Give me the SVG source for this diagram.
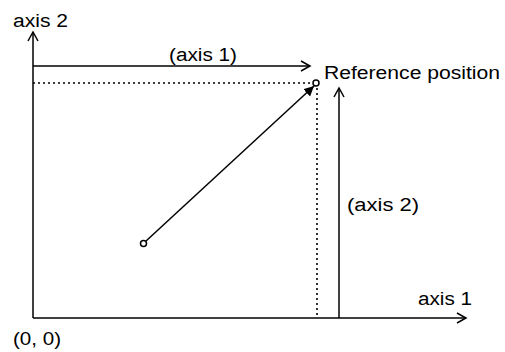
<svg xmlns="http://www.w3.org/2000/svg" width="505" height="352" viewBox="0 0 505 352">
<style>
text{font-family:"Liberation Sans",Arial,sans-serif;font-size:18px;fill:#000}
.l{stroke:#000;stroke-width:1.5;fill:none}
.d{stroke:#000;stroke-width:1.6;fill:none;stroke-dasharray:2 3}
</style>
<defs>
<marker id="open" markerWidth="12" markerHeight="12" refX="10" refY="6" orient="auto" markerUnits="userSpaceOnUse">
<path d="M1,1 L10,6 L1,11" fill="none" stroke="#000" stroke-width="1.5"/>
</marker>
<marker id="fill" markerWidth="12" markerHeight="12" refX="10" refY="5" orient="auto" markerUnits="userSpaceOnUse">
<path d="M0,0 L10,5 L0,10 Z" fill="#000"/>
</marker>
</defs>
<rect width="505" height="352" fill="#fff"/>
<g id="connectors">
<line class="l" x1="33" y1="318" x2="33" y2="32" marker-end="url(#open)"/>
<line class="l" x1="33" y1="318" x2="466" y2="318" marker-end="url(#open)"/>
<line class="l" x1="33" y1="66" x2="310" y2="66" marker-end="url(#open)"/>
<line class="d" x1="33" y1="83" x2="313" y2="83"/>
<line class="d" x1="317" y1="88" x2="317" y2="318"/>
<line class="l" x1="339" y1="318" x2="339" y2="88" marker-end="url(#open)"/>
<line class="l" x1="146" y1="241" x2="314" y2="86" marker-end="url(#fill)"/>
</g>
<g id="start"><circle cx="143.5" cy="243.5" r="3" fill="#fff" stroke="#000" stroke-width="1.5"/></g>
<g id="ref"><circle cx="316" cy="83" r="3" fill="#fff" stroke="#000" stroke-width="1.5"/></g>
<g id="labels">
<text x="13" y="27" textLength="55" lengthAdjust="spacingAndGlyphs">axis 2</text>
<text x="169" y="61" textLength="68" lengthAdjust="spacingAndGlyphs">(axis 1)</text>
<text x="324" y="79" textLength="176" lengthAdjust="spacingAndGlyphs">Reference position</text>
<text x="347" y="211" textLength="72" lengthAdjust="spacingAndGlyphs">(axis 2)</text>
<text x="418" y="305" textLength="54" lengthAdjust="spacingAndGlyphs">axis 1</text>
<text x="13" y="345" textLength="48" lengthAdjust="spacingAndGlyphs">(0, 0)</text>
</g>
</svg>
